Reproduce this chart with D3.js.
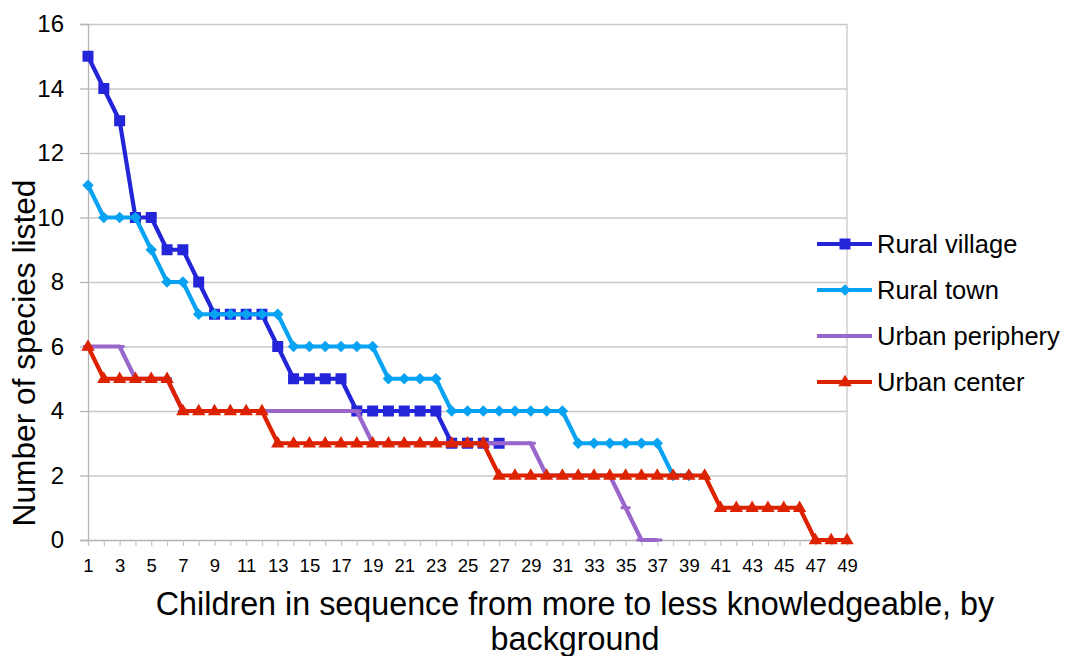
<!DOCTYPE html>
<html>
<head>
<meta charset="utf-8">
<script src="https://cdn.jsdelivr.net/npm/d3@7"></script>
<style>
  html, body { margin: 0; padding: 0; background: #fff; }
  text { font-family: "Liberation Sans", Arial, sans-serif; fill: #000; }
</style>
</head>
<body>
<svg id="chart" width="1068" height="656"></svg>
<script>
// ---- data ----
const categories = d3.range(1, 50);
const ruralVillage = [15,14,13,10,10,9,9,8,7,7,7,7,6,5,5,5,5,4,4,4,4,4,4,3,3,3,3];
const ruralTown = [11,10,10,10,9,8,8,7,7,7,7,7,7,6,6,6,6,6,6,5,5,5,5,4,4,4,4,4,4,4,4,3,3,3,3,3,3,2,2];
const urbanPeriphery = [6,6,6,5,5,5,4,4,4,4,4,4,4,4,4,4,4,4,3,3,3,3,3,3,3,3,3,3,3,2,2,2,2,2,1,0,0];
const urbanCenter = [6,5,5,5,5,5,4,4,4,4,4,4,3,3,3,3,3,3,3,3,3,3,3,3,3,3,2,2,2,2,2,2,2,2,2,2,2,2,2,2,1,1,1,1,1,1,0,0,0];
const seriesNames = ["Rural village", "Rural town", "Urban periphery", "Urban center"];
const yTicks = [0,2,4,6,8,10,12,14,16];
const xTickLabels = categories.filter(d => d % 2 === 1);

const series = [
  {name: seriesNames[0], values: ruralVillage, color: "#2424D8", marker: "square"},
  {name: seriesNames[1], values: ruralTown, color: "#08A2F2", marker: "diamond"},
  {name: seriesNames[2], values: urbanPeriphery, color: "#9966CC", marker: "dash"},
  {name: seriesNames[3], values: urbanCenter, color: "#DD2200", marker: "triangle"}
];

const svg = d3.select("#chart");
const pLeft = 88, pRight = 847, pTop = 24, pBottom = 540;
const x = d3.scalePoint().domain(categories).range([pLeft, pRight]);
const y = d3.scaleLinear().domain([0, 16]).range([pBottom, pTop]);

// gridlines
svg.append("g")
  .attr("transform", `translate(${pLeft},0)`)
  .call(d3.axisLeft(y).tickValues(yTicks.filter(d => d > 0)).tickSize(-(pRight - pLeft)).tickFormat(""))
  .call(g => g.select(".domain").remove())
  .call(g => g.selectAll("line").attr("stroke", "#C8C8C8").attr("stroke-width", 1.3));

// right border of plot
svg.append("line").attr("x1", pRight).attr("x2", pRight).attr("y1", pTop).attr("y2", pBottom)
  .attr("stroke", "#C8C8C8").attr("stroke-width", 1.3);

// y axis
svg.append("g")
  .attr("transform", `translate(${pLeft},0)`)
  .call(d3.axisLeft(y).tickValues(yTicks).tickSize(8).tickPadding(16))
  .call(g => g.select(".domain").attr("stroke", "#B4B4B4").attr("stroke-width", 1.3))
  .call(g => g.selectAll("line").attr("stroke", "#B4B4B4").attr("stroke-width", 1.3))
  .call(g => g.selectAll("text").style("font-size", "24px").attr("font-family", "Liberation Sans, Arial, sans-serif"));

// x axis
svg.append("g")
  .attr("transform", `translate(0,${pBottom})`)
  .call(d3.axisBottom(x).tickValues(categories).tickSize(6).tickPadding(13)
        .tickFormat(d => xTickLabels.includes(d) ? d : ""))
  .call(g => g.select(".domain").attr("stroke", "#B4B4B4").attr("stroke-width", 1.3))
  .call(g => g.selectAll("line").attr("stroke", "#C4C4C4").attr("stroke-width", 1.2))
  .call(g => g.selectAll("text").style("font-size", "18.5px").attr("font-family", "Liberation Sans, Arial, sans-serif"));

// marker drawing
function drawMarker(sel, type, color) {
  if (type === "square") {
    sel.append("path").attr("d", d3.symbol(d3.symbolSquare, 121)()).attr("fill", color);
  } else if (type === "diamond") {
    sel.append("path").attr("d", d3.symbol(d3.symbolSquare, 66)()).attr("transform", "rotate(45)").attr("fill", color);
  } else if (type === "triangle") {
    sel.append("path").attr("d", d3.symbol(d3.symbolTriangle, 78)()).attr("transform", "translate(0,0.5)").attr("fill", color);
  } else if (type === "dash") {
    sel.append("line").attr("x1", -5).attr("x2", 5).attr("stroke", color).attr("stroke-width", 3);
  }
}

const line = d3.line().x((d, i) => x(categories[i])).y(d => y(d));

series.forEach(s => {
  const g = svg.append("g");
  g.append("path").datum(s.values).attr("d", line)
    .attr("fill", "none").attr("stroke", s.color).attr("stroke-width", 4.2)
    .attr("stroke-linejoin", "round");
  g.selectAll("g.m").data(s.values).join("g").attr("class", "m")
    .attr("transform", (d, i) => `translate(${x(categories[i])},${y(d)})`)
    .each(function() { drawMarker(d3.select(this), s.marker, s.color); });
});

// legend
const legendY = [244, 290, 336, 382];
series.forEach((s, i) => {
  const g = svg.append("g").attr("transform", `translate(0,${legendY[i]})`);
  g.append("line").attr("x1", 817).attr("x2", 872).attr("stroke", s.color).attr("stroke-width", 4.2);
  const m = g.append("g").attr("transform", "translate(845,0)");
  if (s.marker !== "dash") drawMarker(m, s.marker, s.color);
  g.append("text").attr("x", 877).attr("y", 9).style("font-size", "25.5px").text(s.name);
});

// axis titles
svg.append("text")
  .attr("transform", "translate(35,353) rotate(-90)")
  .attr("text-anchor", "middle")
  .style("font-size", "31.7px")
  .text("Number of species listed");

svg.append("text").attr("x", 575).attr("y", 615).attr("text-anchor", "middle")
  .style("font-size", "32.3px")
  .text("Children in sequence from more to less knowledgeable, by");
svg.append("text").attr("x", 575).attr("y", 650).attr("text-anchor", "middle")
  .style("font-size", "32.3px")
  .text("background");
</script>
</body>
</html>
